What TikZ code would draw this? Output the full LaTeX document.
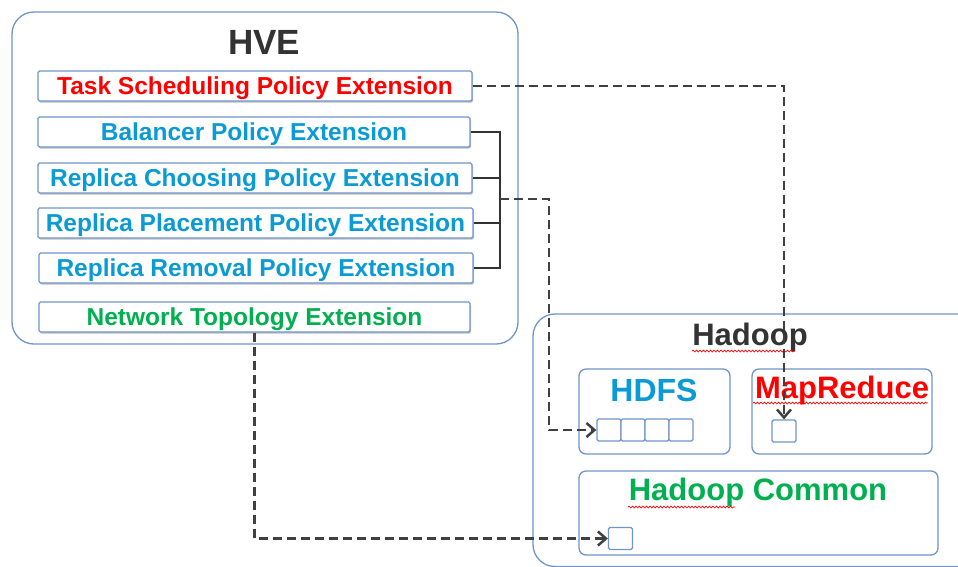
\documentclass[tikz,border=0pt]{standalone}
\usepackage{fontspec}
\setmainfont{Liberation Sans}
\usetikzlibrary{arrows.meta,shadows,decorations.pathmorphing}
\definecolor{bordc}{HTML}{6F95CC}
\definecolor{redc}{HTML}{FF0000}
\definecolor{bluec}{HTML}{0A9AD6}
\definecolor{greenc}{HTML}{00B050}
\definecolor{titlec}{HTML}{333333}
\definecolor{dashc}{HTML}{404040}
\tikzset{
  ext/.style={draw=bordc, line width=1.3pt, fill=white, rounded corners=1.5pt,
    minimum height=30pt, inner sep=0pt, text height=17.5pt, text depth=1pt,
    font=\fontsize{24.5}{27}\selectfont\bfseries,
    drop shadow={shadow xshift=1pt, shadow yshift=-1.5pt, opacity=0.25, fill=black}},
  group/.style={draw=bordc, line width=1.3pt, rounded corners=22pt},
  sub/.style={draw=bordc, line width=1.3pt, rounded corners=7pt, fill=white},
  cell/.style={draw=bordc, line width=1.3pt, rounded corners=1.5pt, fill=white,
    minimum width=24pt, minimum height=22pt, inner sep=0pt},
  dashlink/.style={draw=dashc, line width=2.5pt, dash pattern=on 9pt off 5pt,
    -{Straight Barb[length=8pt,width=14pt,line width=2.5pt]}},
  bracket/.style={draw=titlec, line width=1.3pt},
  squiggle/.style={draw=redc, line width=0.7pt, decorate,
    decoration={snake, segment length=3.5pt, amplitude=0.9pt}},
}
\begin{document}
\begin{tikzpicture}[x=1pt,y=-1pt]
\useasboundingbox (0,0) rectangle (958,566);
\fill[white] (0,0) rectangle (958,566);
% HVE group
\node[group, minimum width=506pt, minimum height=332pt] (hve) at (265,178) {};
\node[text=titlec, font=\fontsize{35}{38}\selectfont\bfseries] (hvet) at (264,42) {HVE};
\node[ext, minimum width=434pt, text=redc] (task) at (255,86) {Task Scheduling Policy Extension};
\node[ext, minimum width=432pt, text=bluec] (bal) at (254,132) {Balancer Policy Extension};
\node[ext, minimum width=434pt, text=bluec] (choose) at (255,178) {Replica Choosing Policy Extension};
\node[ext, minimum width=435pt, text=bluec] (place) at (255.5,223) {Replica Placement Policy Extension};
\node[ext, minimum width=434pt, text=bluec] (remove) at (256,268) {Replica Removal Policy Extension};
\node[ext, minimum width=431pt, text=greenc] (net) at (254.5,317) {Network Topology Extension};
% Hadoop group
\begin{scope}
\clip (0,0) rectangle (958,566);
\draw[group] (533,314) rectangle (1000,566.5);
\end{scope}
\node[text=titlec, font=\fontsize{31}{34}\selectfont\bfseries] (hadt) at (750,337) {Hadoop};
\node[sub, minimum width=151pt, minimum height=85pt] (hdfs) at (654.5,411.5) {};
\node[text=bluec, font=\fontsize{32}{35}\selectfont\bfseries] (hdfst) at (654,390) {HDFS};
\node[sub, minimum width=180pt, minimum height=85pt] (mr) at (842,411.5) {};
\node[text=redc, font=\fontsize{31}{34}\selectfont\bfseries] (mrt) at (842,390) {MapReduce};
\node[sub, minimum width=359pt, minimum height=84pt] (hc) at (758.5,513) {};
\node[text=greenc, font=\fontsize{31}{34}\selectfont\bfseries] (hct) at (758,492) {Hadoop Common};
% spelling marks
\draw[squiggle] (692,351) -- (795,351);
\draw[squiggle] (753,403) -- (928,403);
\draw[squiggle] (628,507) -- (735,507);
\node[cell] (h1) at (609,430) {};
\node[cell] (h2) at (633,430) {};
\node[cell] (h3) at (657,430) {};
\node[cell] (h4) at (681,430) {};
\node[cell] (m1) at (784,431) {};
\node[cell] (c1) at (620.5,538.5) {};
% bracket
\coordinate (brtop) at (500,132);
\coordinate (brbot) at (500,268);
\coordinate (brmid) at (500,199);
\draw[bracket] (bal.east) -- (brtop) -- (brbot) -- (remove.east);
\draw[bracket] (choose.east) -- (choose.east -| brtop);
\draw[bracket] (place.east) -- (place.east -| brtop);
% dashed links
\draw[dashlink] (task.east) -| (m1.north);
\draw[dashlink] (brmid) -- ++(49,0) |- (h1.west);
\draw[dashlink] (net.south) |- (c1.west);
\end{tikzpicture}
\end{document}
